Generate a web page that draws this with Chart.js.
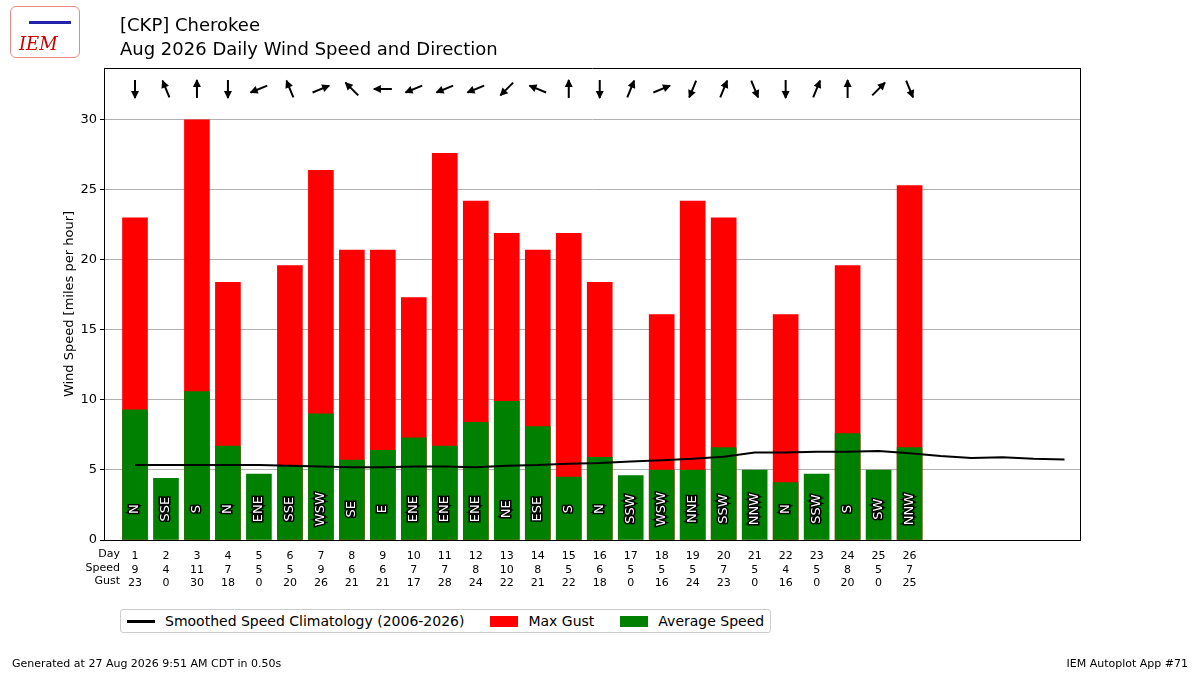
<!DOCTYPE html>
<html>
<head>
<meta charset="utf-8">
<script src="https://cdn.jsdelivr.net/npm/chart.js@4"></script>
<style>
  body { margin: 0; background: #fff; font-family: 'DejaVu Sans', sans-serif; }
  #wrap { position: relative; width: 1200px; height: 675px; }
  .t { position: absolute; color: #000; }
  #legend { position: absolute; left: 120px; top: 609px; border: 1px solid #ccc; border-radius: 3px; padding: 3px 6px; font-size: 14px; display: flex; gap: 26px; background: #fff; }
  #legend span { display: inline-flex; align-items: center; }
  .sw { display: inline-block; width: 28px; margin-right: 10px; }
</style>
</head>
<body>
<div id="wrap">
  <canvas id="c" width="1200" height="675"></canvas>
  <div class="t" style="left:10px;top:6px;width:68px;height:50px;border:1px solid #e88;border-radius:6px;color:#c00;font:italic 18px 'DejaVu Serif';">
    <div style="position:absolute;left:8px;top:26px;">IEM</div>
    <div style="position:absolute;left:18px;top:14px;width:42px;height:3px;background:#22a;"></div>
  </div>
  <div class="t" style="left:120px;top:13px;font-size:18px;line-height:24px;">[CKP] Cherokee<br>Aug 2026 Daily Wind Speed and Direction</div>
  <div class="t" style="left:12px;top:657px;font-size:11px;">Generated at 27 Aug 2026 9:51 AM CDT in 0.50s</div>
  <div class="t" style="right:12px;top:657px;font-size:11px;">IEM Autoplot App #71</div>
  <div id="legend">
    <span><i class="sw" style="height:3px;background:#000"></i>Smoothed Speed Climatology (2006-2026)</span>
    <span><i class="sw" style="height:11px;background:#f00"></i>Max Gust</span>
    <span><i class="sw" style="height:11px;background:#008000"></i>Average Speed</span>
  </div>
</div>
<script>
const days = [1,2,3,4,5,6,7,8,9,10,11,12,13,14,15,16,17,18,19,20,21,22,23,24,25,26]
const avgSpeed = [9.3,4.4,10.6,6.7,4.7,5.3,9.0,5.7,6.4,7.3,6.7,8.4,9.9,8.1,4.5,5.9,4.6,5.0,5.0,6.6,5.0,4.1,4.7,7.6,5.0,6.6]
const maxGust = [23.0,0,30.0,18.4,0,19.6,26.4,20.7,20.7,17.3,27.6,24.2,21.9,20.7,21.9,18.4,0,16.1,24.2,23.0,0,16.1,0,19.6,0,25.3]
const speedLabels = [9,4,11,7,5,5,9,6,6,7,7,8,10,8,5,6,5,5,5,7,5,4,5,8,5,7]
const gustLabels = [23,0,30,18,0,20,26,21,21,17,28,24,22,21,22,18,0,16,24,23,0,16,0,20,0,25]
const directions = ['N','SSE','S','N','ENE','SSE','WSW','SE','E','ENE','ENE','ENE','NE','ESE','S','N','SSW','WSW','NNE','SSW','NNW','N','SSW','S','SW','NNW']
const climoDays = [1,2,3,4,5,6,7,8,9,10,11,12,13,14,15,16,17,18,19,20,21,22,23,24,25,26,27,28,29,30,31]
const climoSpeed = [5.35,5.35,5.35,5.35,5.35,5.3,5.25,5.2,5.2,5.25,5.25,5.2,5.3,5.35,5.45,5.5,5.6,5.7,5.8,5.95,6.25,6.25,6.3,6.3,6.35,6.2,6.0,5.85,5.9,5.8,5.75]
const compass = ['N','NNE','NE','ENE','E','ESE','SE','SSE','S','SSW','SW','WSW','W','WNW','NW','NNW']

const font = { family: 'DejaVu Sans', size: 11 }

const decor = {
  id: 'decor',
  afterDatasetsDraw(chart) {
    const { ctx, scales: { x, y } } = chart
    ctx.save()
    // direction text in bars
    ctx.font = "13px 'DejaVu Sans'"
    ctx.textAlign = 'center'
    ctx.textBaseline = 'middle'
    days.forEach((d, i) => {
      ctx.save()
      ctx.translate(x.getPixelForValue(d), y.getPixelForValue(2.2))
      ctx.rotate(-Math.PI / 2)
      ctx.lineWidth = 3
      ctx.strokeStyle = '#000'
      ctx.strokeText(directions[i], 0, 0)
      ctx.fillStyle = '#fff'
      ctx.fillText(directions[i], 0, 0)
      ctx.restore()
    })
    // arrows
    ctx.strokeStyle = '#000'
    ctx.fillStyle = '#000'
    ctx.lineWidth = 2
    days.forEach((d, i) => {
      const a = (compass.indexOf(directions[i]) * 22.5 + 180) * Math.PI / 180
      const dx = Math.sin(a), dy = -Math.cos(a)
      const cx = x.getPixelForValue(d), cy = y.getPixelForValue(32.2)
      const L = 9
      const tx = cx + dx * L, ty = cy + dy * L
      ctx.beginPath()
      ctx.moveTo(cx - dx * L, cy - dy * L)
      ctx.lineTo(tx, ty)
      ctx.stroke()
      const h = 7, w = 4
      ctx.beginPath()
      ctx.moveTo(tx + dx * 1, ty + dy * 1)
      ctx.lineTo(tx - dx * h - dy * w, ty - dy * h + dx * w)
      ctx.lineTo(tx - dx * h + dy * w, ty - dy * h - dx * w)
      ctx.closePath()
      ctx.fill()
    })
    // row labels
    ctx.font = "11px 'DejaVu Sans'"
    ctx.textAlign = 'right'
    ctx.textBaseline = 'top'
    ;['Day', 'Speed', 'Gust'].forEach((t, i) => ctx.fillText(t, 120, y.bottom + 9 + i * 13.5))
    ctx.restore()
  }
}

new Chart(document.getElementById('c'), {
  data: {
    datasets: [
      {
        type: 'line',
        label: 'Smoothed Speed Climatology (2006-2026)',
        data: climoDays.map((d, i) => ({ x: d, y: climoSpeed[i] })),
        borderColor: '#000',
        borderWidth: 2,
        pointRadius: 0,
        order: 0
      },
      {
        type: 'bar',
        label: 'Average Speed',
        data: days.map((d, i) => ({ x: d, y: avgSpeed[i] })),
        backgroundColor: '#008000',
        barThickness: 25,
        grouped: false,
        order: 1
      },
      {
        type: 'bar',
        label: 'Max Gust',
        data: days.map((d, i) => ({ x: d, y: maxGust[i] })),
        backgroundColor: '#ff0000',
        barThickness: 25,
        grouped: false,
        order: 2
      }
    ]
  },
  options: {
    responsive: false,
    animation: false,
    layout: { padding: { left: 60, right: 120, top: 68, bottom: 85 } },
    scales: {
      x: {
        type: 'linear',
        min: 0,
        max: 31.5,
        offset: false,
        grid: { display: false, drawTicks: true },
        border: { color: '#000' },
        afterBuildTicks: (s) => { s.ticks = days.map((d) => ({ value: d })) },
        afterFit: (s) => { s.height = 50 },
        ticks: {
          color: '#000',
          font,
          maxRotation: 0,
          autoSkip: false,
          padding: 2,
          callback: (v) => {
            const i = days.indexOf(v)
            return i < 0 ? '' : [String(v), String(speedLabels[i]), String(gustLabels[i])]
          }
        }
      },
      y: {
        min: 0,
        max: 33.7,
        afterFit: (s) => { s.width = 44 },
        afterBuildTicks: (s) => { s.ticks = [0, 5, 10, 15, 20, 25, 30].map((v) => ({ value: v })) },
        grid: { color: '#b0b0b0', drawTicks: true, tickColor: '#000', tickLength: 4 },
        border: { color: '#000' },
        title: { display: true, text: 'Wind Speed [miles per hour]', color: '#000', font: { family: 'DejaVu Sans', size: 13 }, padding: 2 },
        ticks: { color: '#000', font: { family: 'DejaVu Sans', size: 13 } }
      },
      y2: {
        position: 'right', min: 0, max: 33.7,
        grid: { display: false }, ticks: { display: false }, border: { color: '#000' },
        afterFit: (s) => { s.width = 0 }
      },
      x2: {
        type: 'linear', position: 'top', min: 0, max: 31.5, offset: false,
        grid: { display: false }, ticks: { display: false }, border: { color: '#000' },
        afterFit: (s) => { s.height = 0 }
      }
    },
    plugins: { legend: { display: false }, tooltip: { enabled: false } }
  },
  plugins: [decor]
})
</script>
</body>
</html>
